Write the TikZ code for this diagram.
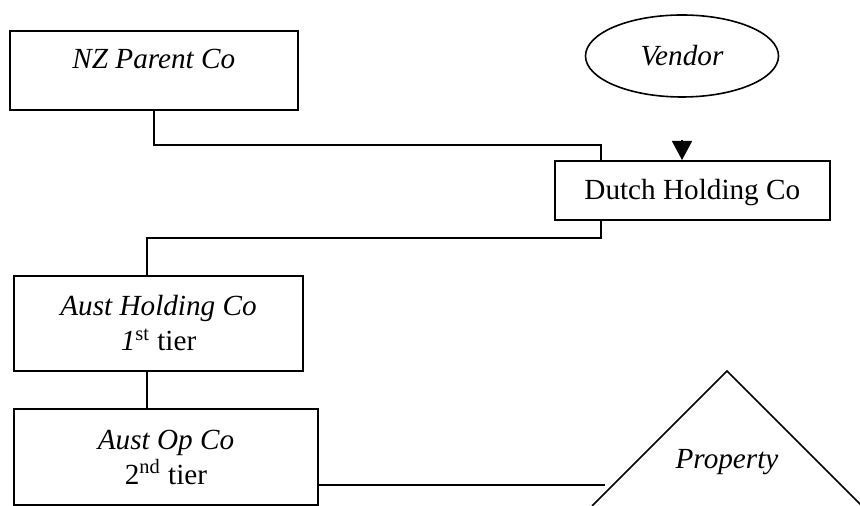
\documentclass[tikz,border=0pt]{standalone}
\usepackage{fontspec}
\setmainfont{Liberation Serif}
\usetikzlibrary{shapes.geometric,arrows.meta}
\begin{document}
\begin{tikzpicture}[x=0.5pt,y=-0.5pt,
  every node/.style={font=\fontsize{14.6}{17.5}\selectfont},
  box/.style={draw,line width=0.8pt,rectangle,inner sep=0pt,align=center},
  conn/.style={line width=0.8pt}]
\useasboundingbox (0,0) rectangle (860,506);
\clip (0,0) rectangle (860,506);
\node[box,anchor=north west,minimum width=144pt,text height=19pt,text depth=20.5pt] (nz) at (9,30) {\textit{NZ Parent Co}};
\node[draw,line width=0.8pt,ellipse,inner sep=0pt,minimum width=96.5pt,minimum height=41pt] (vendor) at (682,56) {\textit{Vendor}};
\node[box,anchor=north west,minimum width=137.5pt,text height=19.5pt,text depth=10pt] (dutch) at (554,160) {Dutch Holding Co};
\node[box,minimum width=144.5pt,minimum height=47.5pt] (ah) at (158.5,323.5) {\textit{Aust Holding Co}\\\textit{1}\textsuperscript{st} tier};
\node[box,minimum width=152pt,minimum height=48pt] (ao) at (166,457) {\textit{Aust Op Co}\\2\textsuperscript{nd} tier};
\coordinate (c1) at (601,145);
\coordinate (c2) at (601,238);
\coordinate (c3) at (147,238);
\coordinate (vt) at (682,140.5);
\coordinate (pe) at (605,485);
\draw[conn] (nz.south) |- (c1) -- (c1 |- dutch.north);
\draw[conn,-{Triangle[length=9.5pt,width=10pt]}] (vt) -- (vt |- dutch.north);
\draw[conn] (c1 |- dutch.south) -- (c2) -- (c3) -- (c3 |- ah.north);
\draw[conn] (c3 |- ah.south) -- (c3 |- ao.north);
\draw[conn] (ao.east |- pe) -- (pe);
\draw[conn] (592,506) -- (727,371) -- (862,506);
\node (prop) at (727,462) {\textit{Property}};
\end{tikzpicture}
\end{document}
